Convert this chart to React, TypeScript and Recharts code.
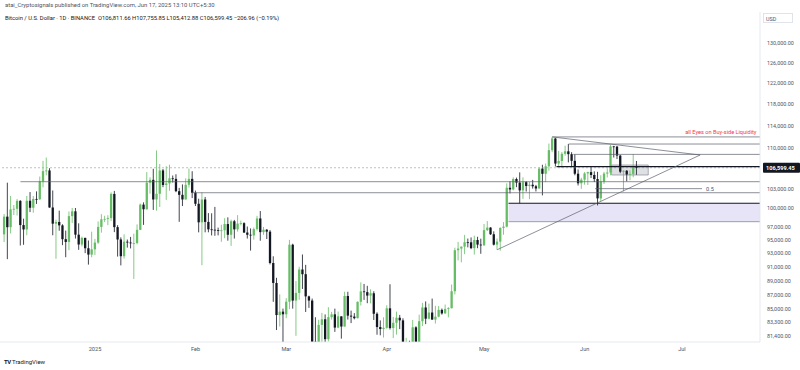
import React from 'react';
import { ComposedChart, Bar, XAxis, YAxis, ReferenceLine, ReferenceArea, ReferenceDot } from 'recharts';

// Day index counted from 2025-01-01; first candle is 2024-12-04
const FIRST_DAY = -28;

// [open, high, low, close]
const dec2024 = [
  [95840, 99000, 94660, 98590], [98590, 104088, 92120, 96940], [96940, 101898, 95981, 99740],
  [99740, 100439, 98844, 99831], [99831, 101400, 98771, 101109], [101109, 101215, 94150, 97276],
  [97276, 98270, 94256, 96593], [96593, 101895, 95700, 101125], [101125, 102540, 99311, 100000],
  [100000, 101895, 99205, 101418], [101418, 102650, 100610, 101372], [101372, 105120, 101227, 104298],
  [104298, 107780, 103322, 106029], [106029, 108353, 105321, 106140], [106140, 106524, 100000, 100041],
  [100041, 102800, 95700, 97490], [97490, 98098, 92175, 97756], [97756, 99540, 96398, 97225],
  [97225, 97400, 94200, 95104], [95104, 96416, 92403, 94686], [94686, 99404, 93448, 98676],
  [98676, 99963, 97600, 99429], [99429, 99963, 95199, 95792], [95792, 97544, 93500, 94299],
  [94299, 95500, 94011, 95300], [95300, 95330, 93010, 93738], [93738, 94903, 91317, 92792],
  [92792, 96250, 92400, 93576],
];
const jan2025 = [
  [93576, 95150, 92743, 94591], [94591, 97839, 94392, 96984], [96984, 98976, 96100, 98174],
  [98174, 98734, 97735, 98236], [98236, 98813, 97271, 98364], [98364, 102480, 97926, 102235],
  [102235, 102724, 96181, 96954], [96954, 97258, 92500, 95060], [95060, 95382, 91203, 92552],
  [92552, 95836, 92207, 94726], [94726, 95050, 93831, 94599], [94599, 95450, 93712, 94511],
  [94511, 95940, 89256, 94519], [94519, 97371, 94322, 96534], [96534, 100681, 96500, 100504],
  [100505, 100873, 97300, 99756], [99757, 105865, 99705, 104079], [104078, 104988, 102277, 104557],
  [104557, 106422, 99651, 101331], [101331, 109588, 99550, 102260], [102261, 107240, 100119, 106143],
  [106144, 106394, 103340, 103706], [103706, 106850, 101262, 103960], [103960, 107120, 102750, 104820],
  [104819, 105286, 104106, 104714], [104714, 105500, 102520, 102682], [102682, 103222, 97777, 102087],
  [102087, 103800, 100272, 101332], [101332, 104800, 101328, 103733], [103733, 106457, 103278, 104722],
  [104722, 106012, 101560, 102429],
];
const feb2025 = [
  [102429, 102783, 100279, 100635], [100635, 101456, 96150, 97700], [97700, 102500, 91231, 101328],
  [101328, 101745, 96150, 97763], [97763, 99149, 96155, 96612], [96612, 99120, 95676, 96554],
  [96554, 100137, 95620, 96506], [96506, 96880, 95688, 96444], [96444, 97323, 94713, 96462],
  [96462, 98345, 95256, 97430], [97430, 98478, 94876, 95778], [95778, 98119, 94088, 97869],
  [97870, 98080, 95200, 96609], [96609, 98826, 96252, 97500], [97500, 97972, 97223, 97569],
  [97569, 97704, 96046, 96118], [96118, 97046, 95205, 95780], [95780, 96753, 93388, 95671],
  [95671, 96899, 95029, 96644], [96644, 98711, 96415, 98305], [98305, 99475, 94871, 96182],
  [96181, 96980, 95770, 96552], [96552, 96651, 95131, 96258], [96258, 96500, 91350, 91552],
  [91552, 92541, 86050, 88680], [88680, 89414, 82256, 84250], [84250, 87078, 82716, 84708],
  [84708, 85120, 78258, 84350],
];
const mar2025 = [
  [84350, 86558, 83824, 86065], [86065, 95000, 85050, 94270], [94270, 94416, 85117, 86220],
  [86221, 88967, 81500, 87281], [87281, 91000, 86334, 90606], [90607, 92810, 87836, 89931],
  [89931, 91283, 84667, 86801], [86801, 86897, 85218, 86222], [86222, 86500, 80000, 80734],
  [80735, 83955, 77459, 78595], [78595, 83617, 76607, 82932], [82932, 84539, 80648, 83681],
  [83681, 84336, 79939, 81067], [81067, 85310, 80765, 83970], [83969, 84672, 83639, 84344],
  [84344, 85117, 82017, 82579], [82579, 84725, 82492, 84076], [84076, 84076, 81134, 82719],
  [82719, 87453, 82715, 86854], [86855, 87443, 83647, 84167], [84167, 84850, 83175, 84043],
  [84043, 84513, 83674, 83832], [83832, 86094, 83795, 86054], [86054, 88765, 85541, 87498],
  [87498, 88539, 86310, 87392], [87392, 88275, 85860, 86909], [86909, 87786, 85837, 87232],
  [87232, 87515, 83585, 84424], [84424, 84624, 81644, 82648], [82648, 83534, 81565, 82390],
  [82390, 83943, 81278, 82550],
];
const apr2025 = [
  [82550, 85579, 82432, 85159], [85159, 88500, 82320, 82516], [82516, 83998, 81211, 83213],
  [83213, 84720, 81659, 83889], [83890, 84266, 82379, 83538], [83537, 83817, 77153, 78430],
  [78430, 81243, 74508, 79164], [79164, 80867, 76239, 76323], [76322, 83588, 74620, 82615],
  [82615, 82753, 78464, 79607], [79607, 84300, 78969, 83423], [83423, 85905, 82792, 85276],
  [85276, 86100, 83034, 83760], [83760, 85799, 83678, 84591], [84591, 86496, 83600, 83643],
  [83643, 85500, 83111, 84030], [84030, 85470, 83949, 84947], [84947, 85132, 84303, 84474],
  [84474, 85677, 84428, 85077], [85077, 85320, 83949, 85179], [85179, 88460, 85144, 87516],
  [87517, 93817, 87076, 93442], [93442, 94696, 91935, 93691], [93691, 94000, 91650, 93980],
  [93980, 95758, 92855, 94638], [94638, 95199, 93870, 94631], [94631, 95369, 93602, 93755],
  [93755, 95630, 92800, 94981], [94981, 95470, 93742, 94284], [94284, 95180, 92910, 94172],
];
const may2025 = [
  [94172, 97437, 94111, 96489], [96489, 97895, 96350, 96887], [96887, 96935, 95753, 95856],
  [95856, 96304, 94151, 94277], [94277, 95199, 93514, 94733], [94733, 96920, 93377, 96834],
  [96834, 97732, 95784, 97032], [97032, 103971, 96910, 103241], [103241, 104330, 102316, 102970],
  [102970, 104984, 102818, 104696], [104696, 104937, 103346, 104106], [104106, 105819, 100719, 102812],
  [102812, 104976, 101429, 104169], [104169, 104340, 102629, 103539], [103539, 104192, 101383, 103744],
  [103744, 104550, 103100, 103489], [103489, 103717, 102634, 103126], [103126, 106660, 103105, 106454],
  [106454, 107108, 102000, 105573], [105573, 107320, 104184, 106849], [106850, 110797, 106100, 109643],
  [109643, 111980, 109285, 111696], [111696, 111800, 106800, 107318], [107318, 109506, 106875, 107761],
  [107761, 109299, 106600, 109004], [109004, 110422, 108670, 109434], [109434, 110718, 107516, 108938],
  [108938, 109284, 106812, 107781], [107781, 108891, 105322, 105589], [105589, 106308, 103621, 103985],
  [103985, 104900, 103068, 104592],
];
const jun2025 = [
  [104592, 105866, 103752, 105642], [105642, 105935, 103703, 105857], [105857, 106794, 104872, 105376],
  [105376, 105990, 104192, 104696], [104696, 105909, 100372, 101509], [101509, 105333, 101095, 104288],
  [104288, 105900, 103871, 105615], [105615, 106488, 104964, 105793], [105793, 110530, 105318, 110295],
  [110295, 110400, 108355, 110257], [110257, 110384, 108087, 108687], [108687, 108800, 105671, 105929],
  [105929, 106182, 102664, 106090], [106090, 106209, 104300, 105472], [105472, 106128, 104494, 105552],
  [105552, 108952, 104980, 106811.66], [106811.66, 107755.85, 105412.88, 106599.45],
];

const monthTicks = [0, 31, 59, 90, 120, 151, 181];
const monthLabels = ['2025', 'Feb', 'Mar', 'Apr', 'May', 'Jun', 'Jul'];
const priceTicks = [130000, 126000, 122000, 118000, 114000, 110000, 106599.45, 103000, 100000,
  97000, 95000, 93000, 91000, 89000, 87000, 85000, 83300, 81400];
const lastPrice = 106599.45;

// drawings (day index, price)
const horizontalLevels = [
  { from: 141, price: 111980, dark: false },
  { from: 146, price: 110718, dark: false },
  { from: 147.5, price: 108900, dark: false },
  { from: 142.3, price: 106800, dark: true },
  { from: -23, price: 104250, dark: false },
  { from: 30, price: 102429, dark: false },
];
const fibHalf = { from: 154.2, to: 187.2, price: 103100 };
const zone = { from: 127.5, top: 100719, bottom: 97800 };
const smallBox = { from: 159.3, to: 170.6, top: 107070, bottom: 105370 };
const triangle = { highDay: 141, high: 111980, lowDay: 124, low: 93514, apexDay: 186.6, apex: 108790 };
const noteText = { day: 204.6, price: 112780, text: 'all Eyes on Buy-side Liquidity' };

const X_DOMAIN: [number, number] = [-29.3, 205.06];
const Y_DOMAIN: [number, number] = [80700, 136710];

const UP = '#66bd66';
const DOWN = '#131722';
const FONT = 'Roboto, "Liberation Sans", sans-serif';

const candles = [...dec2024, ...jan2025, ...feb2025, ...mar2025, ...apr2025, ...may2025, ...jun2025];
const data = candles.map(([o, h, l, c], i) => ({ day: FIRST_DAY + i, o, h, l, c, range: [l, h] }));

const fmt = (v: number) => v.toLocaleString('en-US', { minimumFractionDigits: 2, maximumFractionDigits: 2 });

const Candle = (props: any) => {
  const { x, y, width, height, payload } = props;
  if (x == null || y == null || !payload) return null;
  const { o, h, l, c } = payload;
  const cx = x + width / 2;
  const lh = Math.log(h);
  const ll = Math.log(l);
  const pix = (p: number) => (lh === ll ? y : y + (height * (lh - Math.log(p))) / (lh - ll));
  const up = c >= o;
  const color = up ? UP : DOWN;
  const top = Math.min(pix(o), pix(c));
  const bot = Math.max(pix(o), pix(c));
  const bw = 2.3;
  return (
    <g>
      <line x1={cx} x2={cx} y1={pix(h)} y2={pix(l)} stroke={color} strokeWidth={0.8} />
      <rect x={cx - bw / 2} y={top} width={bw} height={Math.max(bot - top, 0.8)} fill={color} />
    </g>
  );
};

const PriceTick = (props: any) => {
  const { x, y, payload } = props;
  const v = payload.value;
  if (Math.abs(v - lastPrice) < 0.01) {
    return (
      <g>
        <rect x={x + 1} y={y - 5} width={37} height={10} fill={DOWN} rx={1} />
        <text x={x + 4} y={y} dy="0.35em" fill="#ffffff" fontSize={5.6} fontFamily={FONT} fontWeight={700}>
          {fmt(v)}
        </text>
      </g>
    );
  }
  return (
    <text x={x + 5} y={y} dy="0.35em" fill="#50535e" fontSize={5.4} fontFamily={FONT}>
      {fmt(v)}
    </text>
  );
};

const TimeTick = (props: any) => {
  const { x, y, payload } = props;
  const idx = monthTicks.indexOf(payload.value);
  return (
    <text x={x} y={y + 6.5} textAnchor="middle" fill="#50535e" fontSize={5.6} fontFamily={FONT}>
      {idx >= 0 ? monthLabels[idx] : ''}
    </text>
  );
};

export default function App() {
  const right = X_DOMAIN[1];
  return (
    <div style={{ position: 'absolute', left: 0, top: 0, width: 800, height: 370, background: '#ffffff', fontFamily: FONT }}>
      <div style={{ position: 'absolute', left: 5, top: 2, fontSize: 5.9, color: '#50535e', whiteSpace: 'nowrap' }}>
        atai_Cryptosignals published on TradingView.com, Jun 17, 2025 13:10 UTC+5:30
      </div>
      <div style={{ position: 'absolute', left: 5, top: 15, fontSize: 5.8, color: '#131722', whiteSpace: 'nowrap' }}>
        Bitcoin / U.S. Dollar · 1D · BINANCE&nbsp; O106,811.66 H107,755.85 L105,412.88 C106,599.45 −206.96 (−0.19%)
      </div>
      <div style={{ position: 'absolute', left: 763, top: 13, width: 30, height: 10, border: '0.6px solid #e0e3eb', fontSize: 5.4, color: '#50535e', lineHeight: '10px', paddingLeft: 2, boxSizing: 'border-box' }}>
        USD
      </div>
      <ComposedChart width={800} height={370} data={data} margin={{ top: 12, right: 0, bottom: 0, left: 0 }}>
        <XAxis
          dataKey="day"
          type="number"
          domain={X_DOMAIN}
          allowDataOverflow
          ticks={monthTicks}
          interval={0}
          tick={<TimeTick />}
          tickLine={false}
          tickSize={0}
          height={28}
          axisLine={{ stroke: '#e0e3eb', strokeWidth: 0.8 }}
        />
        <YAxis
          orientation="right"
          scale="log"
          domain={Y_DOMAIN}
          allowDataOverflow
          ticks={priceTicks}
          interval={0}
          tick={<PriceTick />}
          tickLine={false}
          tickSize={0}
          width={40}
          axisLine={{ stroke: '#e0e3eb', strokeWidth: 0.8 }}
        />
        <ReferenceArea x1={zone.from} x2={right} y1={zone.bottom} y2={zone.top} fill="#e6e4f6" fillOpacity={1} stroke="none" ifOverflow="hidden" />
        <ReferenceLine y={lastPrice} stroke="#9598a1" strokeDasharray="2 2" strokeWidth={0.6} />
        <Bar dataKey="range" shape={<Candle />} isAnimationActive={false} barSize={3} />
        <ReferenceArea x1={smallBox.from} x2={smallBox.to} y1={smallBox.bottom} y2={smallBox.top} fill="#9598a1" fillOpacity={0.3} stroke="#787b86" strokeWidth={0.6} ifOverflow="hidden" />
        {horizontalLevels.map((lv, i) => (
          <ReferenceLine
            key={i}
            segment={[{ x: lv.from, y: lv.price }, { x: right, y: lv.price }]}
            stroke={lv.dark ? '#131722' : '#5d606b'}
            strokeWidth={lv.dark ? 1.2 : 0.7}
            ifOverflow="hidden"
          />
        ))}
        <ReferenceLine segment={[{ x: zone.from, y: zone.top }, { x: right, y: zone.top }]} stroke="#131722" strokeWidth={1.2} ifOverflow="hidden" />
        <ReferenceLine segment={[{ x: zone.from, y: zone.bottom }, { x: right, y: zone.bottom }]} stroke="#787b86" strokeWidth={0.7} ifOverflow="hidden" />
        <ReferenceLine segment={[{ x: fibHalf.from, y: fibHalf.price }, { x: fibHalf.to, y: fibHalf.price }]} stroke="#5d606b" strokeWidth={0.7} ifOverflow="hidden" />
        <ReferenceLine segment={[{ x: triangle.highDay, y: triangle.high }, { x: triangle.apexDay, y: triangle.apex }]} stroke="#5d606b" strokeWidth={0.7} ifOverflow="hidden" />
        <ReferenceLine segment={[{ x: triangle.lowDay, y: triangle.low }, { x: triangle.apexDay, y: triangle.apex }]} stroke="#5d606b" strokeWidth={0.7} ifOverflow="hidden" />
        <ReferenceDot
          x={fibHalf.to}
          y={fibHalf.price}
          r={0}
          fill="none"
          stroke="none"
          label={{ value: '0.5', position: 'right', offset: 4, fill: '#50535e', fontSize: 5.6, fontFamily: FONT }}
        />
        <ReferenceDot
          x={noteText.day}
          y={noteText.price}
          r={0}
          fill="none"
          stroke="none"
          label={{ value: noteText.text, position: 'left', offset: 2, fill: '#f23645', fontSize: 5.6, fontFamily: FONT }}
        />
      </ComposedChart>
      <div style={{ position: 'absolute', left: 4, top: 358, fontSize: 6, color: '#131722', whiteSpace: 'nowrap' }}>
        <b style={{ letterSpacing: -0.5 }}>TV</b> TradingView
      </div>
    </div>
  );
}
